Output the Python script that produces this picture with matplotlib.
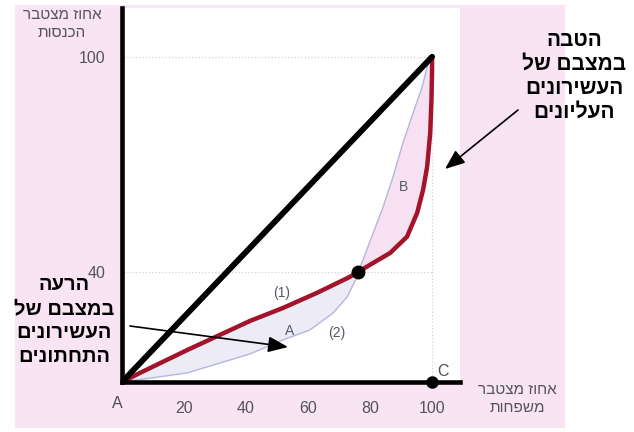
import numpy as np
import matplotlib
matplotlib.use('Agg')
import matplotlib.pyplot as plt
from matplotlib.patches import Rectangle

plt.rcParams['font.family'] = ['Liberation Sans', 'DejaVu Sans']

# ---------------- data ----------------
equality_x = [0, 100]
equality_y = [0, 100]

# Lorenz curve (1) - red
curve1_x = [0, 5.8, 21.0, 41.3, 51.9, 62.9, 73.5, 76.1, 81.0, 86.5, 91.9, 95.2,
            97.1, 98.4, 99.4, 99.8, 100, 100]
curve1_y = [0, 3.3, 11.6, 22.2, 26.9, 32.4, 38.2, 40, 42.5, 45.3, 49.8, 56.5,
            62.9, 69.3, 78.8, 88.0, 96.4, 100]

# Lorenz curve (2) - thin
curve2_x = [0, 9.7, 21.0, 31.6, 41.3, 51.9, 60.6, 68.1, 72.6, 75.8, 76.1,
            77.7, 81.0, 84.2, 87.4, 90.6, 93.9, 96.8, 98.7, 100]
curve2_y = [0, 1.5, 3.3, 6.9, 10.2, 15.3, 18.9, 25.1, 30.9, 38.2, 40,
            43.3, 50.9, 58.1, 66.5, 76.0, 84.4, 91.6, 98.3, 100]

cross_x = [76.1]
cross_y = [40]
point_c_x = [100]
point_c_y = [0]

xtick_values = [20, 40, 60, 80, 100]
xtick_labels = ['20', '40', '60', '80', '100']
ytick_values = [40, 100]
ytick_labels = ['40', '100']

W, H = 634, 432


def rtl(s):
    return s[::-1]


def fx(px):
    return px / W


def fy(py):
    return 1 - py / H


# schematic (piecewise-linear) vertical scale of the original drawing
def fwd(v):
    v = np.asarray(v, dtype=float)
    return np.where(v <= 40, v * 0.84625, 33.85 + (v - 40) * 1.1025)


def inv(f):
    f = np.asarray(f, dtype=float)
    return np.where(f <= 33.85, f / 0.84625, 40 + (f - 33.85) / 1.1025)


fig = plt.figure(figsize=(W / 100, H / 100), dpi=100)
fig.patch.set_facecolor('white')
fig.patches.append(Rectangle((fx(15), fy(428)), (565 - 15) / W, (428 - 5) / H,
                             transform=fig.transFigure, facecolor='#f8e4f2',
                             edgecolor='none', zorder=-5))

ax = fig.add_axes([fx(122), fy(382), 338 / W, 374 / H])
ax.set_zorder(1)
ax.set_facecolor('white')
ax.set_yscale('function', functions=(fwd, inv))
ax.set_xlim(0, 109)
ax.set_ylim(0, 113.6)

for s in ['top', 'right']:
    ax.spines[s].set_visible(False)
for s in ['left', 'bottom']:
    ax.spines[s].set_linewidth(3.3)
    ax.spines[s].set_color('black')
    ax.spines[s].set_zorder(6)

# faint dotted guides
ax.plot([0, 100], [100, 100], ls=':', color='#dfcbd9', lw=0.9, zorder=1)
ax.plot([0, 100], [40, 40], ls=':', color='#dfcbd9', lw=0.9, zorder=1)
ax.plot([100, 100], [0, 100], ls=':', color='#dfcbd9', lw=0.9, zorder=1)

k1 = curve1_x.index(cross_x[0])
k2 = curve2_x.index(cross_x[0])
# area A (below the cross point)
ax.fill(curve1_x[:k1 + 1] + curve2_x[:k2 + 1][::-1],
        curve1_y[:k1 + 1] + curve2_y[:k2 + 1][::-1],
        facecolor='#ecebf6', edgecolor='none', zorder=2)
# area B (above the cross point)
ax.fill(curve1_x[k1:] + curve2_x[k2:][::-1],
        curve1_y[k1:] + curve2_y[k2:][::-1],
        facecolor='#f6e0f1', edgecolor='none', zorder=2)

ax.plot(curve2_x, curve2_y, color='#b3b7dc', lw=1.0, zorder=3,
        solid_joinstyle='round')
ax.plot(curve1_x, curve1_y, color='#a3142a', lw=3.2, zorder=4,
        solid_capstyle='round', solid_joinstyle='round')
ax.plot(equality_x, equality_y, color='black', lw=4.2, zorder=5,
        solid_capstyle='round')
ax.plot(cross_x, cross_y, 'o', color='black', ms=9, zorder=7, clip_on=False)
ax.plot(point_c_x, point_c_y, 'o', color='black', ms=8, zorder=7, clip_on=False)

ax.set_xticks(xtick_values)
ax.set_xticklabels(xtick_labels)
ax.set_yticks(ytick_values)
ax.set_yticklabels(ytick_labels)
ax.yaxis.set_minor_locator(matplotlib.ticker.NullLocator())
ax.tick_params(axis='both', length=0, labelsize=11.5, labelcolor='#555555')
ax.tick_params(axis='x', pad=14)
ax.tick_params(axis='y', pad=12)

small = dict(ha='center', va='center', color='#555a66', fontsize=10)
fig.text(fx(117), fy(403), 'A', ha='center', va='center', color='#4d4d4d', fontsize=11.5)
fig.text(fx(443), fy(372), 'C', ha='center', va='center', color='#4d4d4d', fontsize=11.5,
         zorder=10)
fig.text(fx(282), fy(293), '(1)', zorder=10, **small)
fig.text(fx(337), fy(333), '(2)', zorder=10, **small)
fig.text(fx(290), fy(331), 'A', zorder=10, **small)
fig.text(fx(403), fy(187), 'B', zorder=10, **small)

lbl = dict(ha='center', va='center', color='#555555', fontsize=11)
fig.text(fx(62), fy(15), rtl('אחוז מצטבר'), **lbl)
fig.text(fx(62), fy(33), rtl('הכנסות'), **lbl)
fig.text(fx(517), fy(390), rtl('אחוז מצטבר'), **lbl)
fig.text(fx(517), fy(408), rtl('משפחות'), **lbl)

bold = dict(ha='center', va='center', color='black', fontweight='bold')
left_lines = ['הרעה', 'במצבם של', 'העשירונים', 'התחתונים']
for t, py in zip(left_lines, [285, 309, 333, 357]):
    fig.text(fx(64), fy(py), rtl(t), zorder=10, fontsize=14.5, **bold)
right_lines = ['הטבה', 'במצבם של', 'העשירונים', 'העליונים']
for t, py in zip(right_lines, [40, 64, 88, 112]):
    fig.text(fx(574), fy(py), rtl(t), zorder=10, fontsize=15, **bold)

arrow = dict(arrowstyle='-|>,head_length=0.55,head_width=0.22', color='black',
             lw=1.2, mutation_scale=22, shrinkA=0, shrinkB=0)
ax.annotate('', xy=(fx(288), fy(347)), xytext=(fx(130), fy(326)),
            xycoords='figure fraction', textcoords='figure fraction',
            arrowprops=arrow, zorder=9, annotation_clip=False)
ax.annotate('', xy=(fx(445), fy(169)), xytext=(fx(518), fy(110)),
            xycoords='figure fraction', textcoords='figure fraction',
            arrowprops=arrow, zorder=9, annotation_clip=False)

fig.savefig('out.png', dpi=100)
